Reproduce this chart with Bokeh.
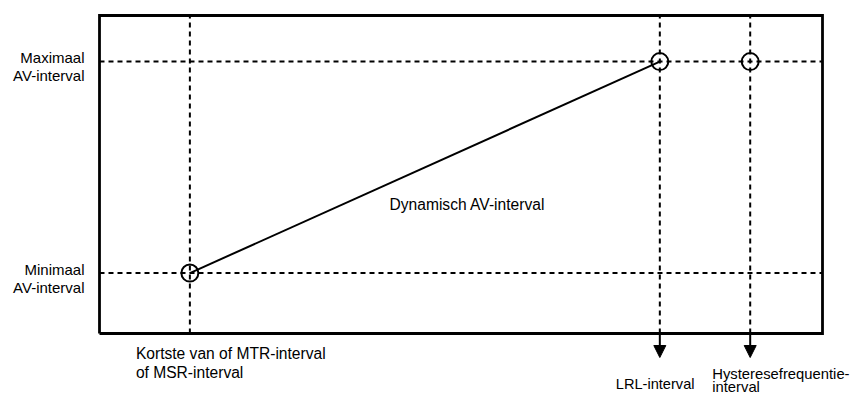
from bokeh.plotting import figure
from bokeh.models import Range1d, Arrow, NormalHead
from bokeh.core.properties import value
from bokeh.embed import file_html
from bokeh.resources import INLINE

# ---- schematic data (axis units: box spans 0..100 in both directions) ----
box_x = [0, 100]
box_y = [0, 100]
# rate intervals on the horizontal axis
interval_names = ["MSR", "LRL", "Hysterese"]
interval_x = [12.5, 77.5, 90.0]
# AV-interval levels on the vertical axis
av_names = ["Minimaal", "Maximaal"]
av_y = [19.0, 85.5]
# operating points (circles)
point_x = [12.5, 77.5, 90.0]
point_y = [19.0, 85.5, 85.5]
# dynamic AV-interval line
dyn_x = [12.5, 77.5]
dyn_y = [19.0, 85.5]
# arrows pointing below the x axis (LRL and hysteresis)
arrow_x = [77.5, 90.0]

y_labels = [["Minimaal", "AV-interval"], ["Maximaal", "AV-interval"]]
dyn_label = "Dynamisch AV-interval"
msr_label = ["Kortste van of MTR-interval", "of MSR-interval"]
lrl_label = "LRL-interval"
hyst_label = ["Hysteresefrequentie-", "interval"]

# ---- layout ----
W, H = 851, 393
SX = 7.23   # px per unit
SY = 3.18   # px per unit
BOX_LEFT_PX, BOX_BOTTOM_PX = 99, 333   # in figure pixels

def px_x(px):
    return px / SX

def px_y(px):
    return px / SY

x0 = -BOX_LEFT_PX / SX
y0 = -(H - BOX_BOTTOM_PX) / SY
p = figure(width=W, height=H, output_backend="svg", toolbar_location=None,
           x_range=Range1d(x0, x0 + W / SX), y_range=Range1d(y0, y0 + H / SY),
           min_border=0, outline_line_color=None)
p.axis.visible = False
p.grid.visible = False
p.background_fill_color = "white"
p.border_fill_color = "white"

FONT = value("Liberation Sans")

# dashed guide lines
for yv in av_y:
    p.line(box_x, [yv, yv], line_color="black", line_width=2, line_dash="5 4")
for xv in interval_x:
    p.line([xv, xv], box_y, line_color="black", line_width=2, line_dash="5 4")

# box
p.line([box_x[0], box_x[1], box_x[1], box_x[0], box_x[0]],
       [box_y[0], box_y[0], box_y[1], box_y[1], box_y[0]],
       line_color="black", line_width=2.8, line_join="miter")

# dynamic AV line
p.line(dyn_x, dyn_y, line_color="black", line_width=2)

# circles
p.scatter(point_x, point_y, marker="circle", size=17, line_color="black",
          line_width=2, fill_alpha=0)

# arrows
for xv in arrow_x:
    p.add_layout(Arrow(x_start=xv, y_start=box_y[0], x_end=xv, y_end=box_y[0] - px_y(24),
                       line_color="black", line_width=2,
                       end=NormalHead(size=12, fill_color="black", line_color="black", line_width=1)))

def label(x, y, text, size, align="left"):
    p.text([x], [y], text=[text], text_font=FONT, text_font_size=size,
           text_align=align, text_baseline="alphabetic", text_color="black")

# y labels (right aligned, left of box)
for yv, lines in zip(av_y, y_labels):
    label(box_x[0] - px_x(15), yv + px_y(4), lines[0], "15px", "right")
    label(box_x[0] - px_x(15), yv - px_y(14), lines[1], "15px", "right")

# curve label
label(px_x(290), px_y(129), dyn_label, "15.6px")
# x labels
label(interval_x[0] - px_x(54), -px_y(20), msr_label[0], "15.6px")
label(interval_x[0] - px_x(54), -px_y(39), msr_label[1], "15.6px")
label(interval_x[1] - px_x(44), -px_y(50), lrl_label, "14.6px")
label(interval_x[2] - px_x(38), -px_y(40), hyst_label[0], "14.8px")
label(interval_x[2] - px_x(38), -px_y(53), hyst_label[1], "14.8px")

open("out.html", "w").write(file_html(p, INLINE))
